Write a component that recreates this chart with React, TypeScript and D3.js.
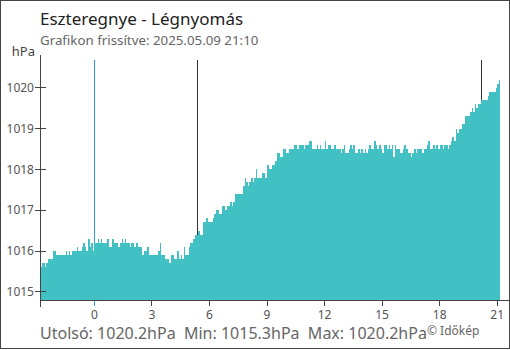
import React from "react";
import * as d3 from "d3";

// ---- data ----
const TITLE = "Eszteregnye - Légnyomás";
const SUBTITLE = "Grafikon frissítve: 2025.05.09 21:10";
const FOOTER = "Utolsó: 1020.2hPa  Min: 1015.3hPa  Max: 1020.2hPa";
const COPYRIGHT = "© Időkép";
const UNIT = "hPa";

const startTime = new Date(2025, 4, 8, 21, 10);
const endTime = new Date(2025, 4, 9, 21, 40);
const stepMinutes = 5;

const pressure: number[] = [
  1015.6, 1015.7, 1015.7, 1015.6, 1015.7, 1015.8, 1015.8, 1015.8, 1016.0, 1016.0,
  1015.9, 1015.9, 1015.9, 1015.9, 1015.9, 1015.9, 1016.0, 1015.9, 1016.0, 1015.9,
  1016.0, 1016.0, 1016.0, 1016.1, 1016.0, 1016.0, 1016.1, 1016.2, 1016.1, 1016.0,
  1016.3, 1016.1, 1016.2, 1016.0, 1016.2, 1016.2, 1016.3, 1016.2, 1016.3, 1016.2,
  1016.2, 1016.2, 1016.3, 1016.1, 1016.1, 1016.3, 1016.2, 1016.2, 1016.2, 1016.1,
  1016.2, 1016.3, 1016.2, 1016.3, 1016.2, 1016.2, 1016.1, 1016.2, 1016.2, 1016.1,
  1016.2, 1016.1, 1016.1, 1016.1, 1015.9, 1016.0, 1016.0, 1016.1, 1015.9, 1015.9,
  1015.9, 1015.9, 1015.9, 1015.9, 1016.0, 1016.2, 1015.9, 1015.9, 1015.8, 1015.8,
  1015.8, 1015.7, 1015.9, 1015.9, 1015.8, 1015.8, 1016.0, 1015.8, 1015.9, 1015.8,
  1016.1, 1015.9, 1015.9, 1016.1, 1016.2, 1016.2, 1016.3, 1016.4, 1016.4, 1016.5,
  1016.4, 1016.4, 1016.7, 1016.7, 1016.8, 1016.7, 1016.7, 1016.7, 1016.8, 1016.9,
  1017.0, 1017.0, 1016.9, 1016.9, 1017.1, 1017.1, 1017.0, 1017.1, 1017.1, 1017.2,
  1017.1, 1017.2, 1017.4, 1017.4, 1017.4, 1017.4, 1017.4, 1017.6, 1017.8, 1017.7,
  1017.6, 1017.7, 1017.8, 1017.7, 1017.8, 1018.0, 1017.8, 1017.8, 1017.8, 1017.9,
  1017.9, 1017.8, 1018.1, 1018.0, 1018.0, 1018.1, 1018.1, 1018.2, 1018.4, 1018.4,
  1018.3, 1018.3, 1018.5, 1018.5, 1018.4, 1018.4, 1018.5, 1018.5, 1018.5, 1018.6,
  1018.6, 1018.5, 1018.6, 1018.6, 1018.6, 1018.5, 1018.6, 1018.6, 1018.7, 1018.7,
  1018.5, 1018.5, 1018.5, 1018.6, 1018.5, 1018.6, 1018.5, 1018.5, 1018.7, 1018.5,
  1018.6, 1018.6, 1018.5, 1018.5, 1018.6, 1018.5, 1018.5, 1018.5, 1018.4, 1018.5,
  1018.6, 1018.4, 1018.4, 1018.5, 1018.6, 1018.5, 1018.6, 1018.4, 1018.4, 1018.5,
  1018.4, 1018.5, 1018.4, 1018.5, 1018.4, 1018.5, 1018.6, 1018.5, 1018.5, 1018.7,
  1018.6, 1018.5, 1018.6, 1018.5, 1018.4, 1018.6, 1018.6, 1018.5, 1018.6, 1018.5,
  1018.6, 1018.3, 1018.6, 1018.5, 1018.5, 1018.4, 1018.4, 1018.5, 1018.6, 1018.5,
  1018.4, 1018.4, 1018.3, 1018.4, 1018.5, 1018.4, 1018.5, 1018.5, 1018.5, 1018.4,
  1018.5, 1018.5, 1018.6, 1018.7, 1018.5, 1018.5, 1018.6, 1018.5, 1018.6, 1018.5,
  1018.6, 1018.6, 1018.5, 1018.6, 1018.6, 1018.5, 1018.6, 1018.7, 1018.8, 1018.7,
  1019.0, 1018.9, 1019.0, 1019.0, 1019.1, 1019.1, 1019.3, 1019.3, 1019.3, 1019.4,
  1019.5, 1019.4, 1019.6, 1019.5, 1019.6, 1019.6, 1019.7, 1019.7, 1019.7, 1019.7,
  1019.8, 1019.9, 1019.9, 1019.9, 1019.9, 1020.0, 1020.1, 1020.2,
];

const yTicks = [1015, 1016, 1017, 1018, 1019, 1020];
const xTickHours = [0, 3, 6, 9, 12, 15, 18, 21];
const midnight = new Date(2025, 4, 9, 0, 0);
const sunEvents = [new Date(2025, 4, 9, 5, 22), new Date(2025, 4, 9, 20, 11)];

const FONT = "'Noto Sans', 'Open Sans', sans-serif";

export default function App() {
  const W = 510, H = 350;
  const left = 40, right = 510, top = 55, bottom = 300;

  const x = d3.scaleTime().domain([startTime, endTime]).range([left, right]);
  const y = d3.scaleLinear().domain([1014.8, 1020.8]).range([bottom, top]);

  const bars = pressure.map((v, i) => {
    const t0 = d3.timeMinute.offset(startTime, i * stepMinutes);
    const t1 = d3.timeMinute.offset(startTime, (i + 1) * stepMinutes);
    return { t0, t1, v };
  });

  const xTicks = xTickHours.map((h) => d3.timeHour.offset(midnight, h));
  const fmt = d3.timeFormat("%-H");

  return (
    <svg
      width={W}
      height={H}
      style={{ position: "absolute", left: 0, top: 0, background: "#fff" }}
      fontFamily={FONT}
    >
      <rect x={0.5} y={0.5} width={509} height={348} fill="#fff" stroke="#444" strokeWidth={1} />

      <text x={40} y={25} fontSize={17} fill="#222">{TITLE}</text>
      <text x={40} y={45} fontSize={13.3} fill="#666">{SUBTITLE}</text>
      <text x={35} y={56} fontSize={13} fill="#444" textAnchor="end">{UNIT}</text>

      {/* x ticks */}
      <g stroke="#444" strokeWidth={1} shapeRendering="crispEdges">
        <line x1={left} x2={left} y1={bottom} y2={bottom + 7} />
        {xTicks.map((t, i) => (
          <line key={i} x1={x(t)} x2={x(t)} y1={bottom} y2={bottom + 6} />
        ))}
      </g>
      <g fontSize={12} fill="#555" textAnchor="middle">
        {xTicks.map((t, i) => (
          <text key={i} x={x(t)} y={319}>{fmt(t)}</text>
        ))}
      </g>

      {/* day markers behind bars */}
      <line x1={x(midnight)} x2={x(midnight)} y1={60} y2={bottom + 6} stroke="#2b9ae6" strokeWidth={1} shapeRendering="crispEdges" />
      {sunEvents.map((t, i) => (
        <line key={i} x1={x(t)} x2={x(t)} y1={60} y2={bottom} stroke="#333" strokeWidth={1} shapeRendering="crispEdges" />
      ))}

      {/* bars */}
      <g fill="#41c1c3" shapeRendering="crispEdges">
        {bars.map((b, i) => (
          <rect key={i} x={x(b.t0)} width={x(b.t1) - x(b.t0)} y={y(b.v)} height={bottom - y(b.v)} />
        ))}
      </g>

      {/* axes lines */}
      <g stroke="#444" strokeWidth={1} shapeRendering="crispEdges">
        <line x1={left} x2={right} y1={bottom} y2={bottom} />
        <line x1={left} x2={left} y1={top} y2={bottom} />
        {yTicks.map((v) => (
          <line key={v} x1={35} x2={46} y1={y(v)} y2={y(v)} />
        ))}
      </g>
      <g fontSize={12} fill="#555" textAnchor="end">
        {yTicks.map((v) => (
          <text key={v} x={34} y={y(v)} dy="0.35em">{v}</text>
        ))}
      </g>

      <text x={40} y={339} fontSize={16} fill="#666" style={{ whiteSpace: "pre" }}>{FOOTER}</text>
      <text x={427} y={335} fontSize={12} fill="#666">{COPYRIGHT}</text>
    </svg>
  );
}
